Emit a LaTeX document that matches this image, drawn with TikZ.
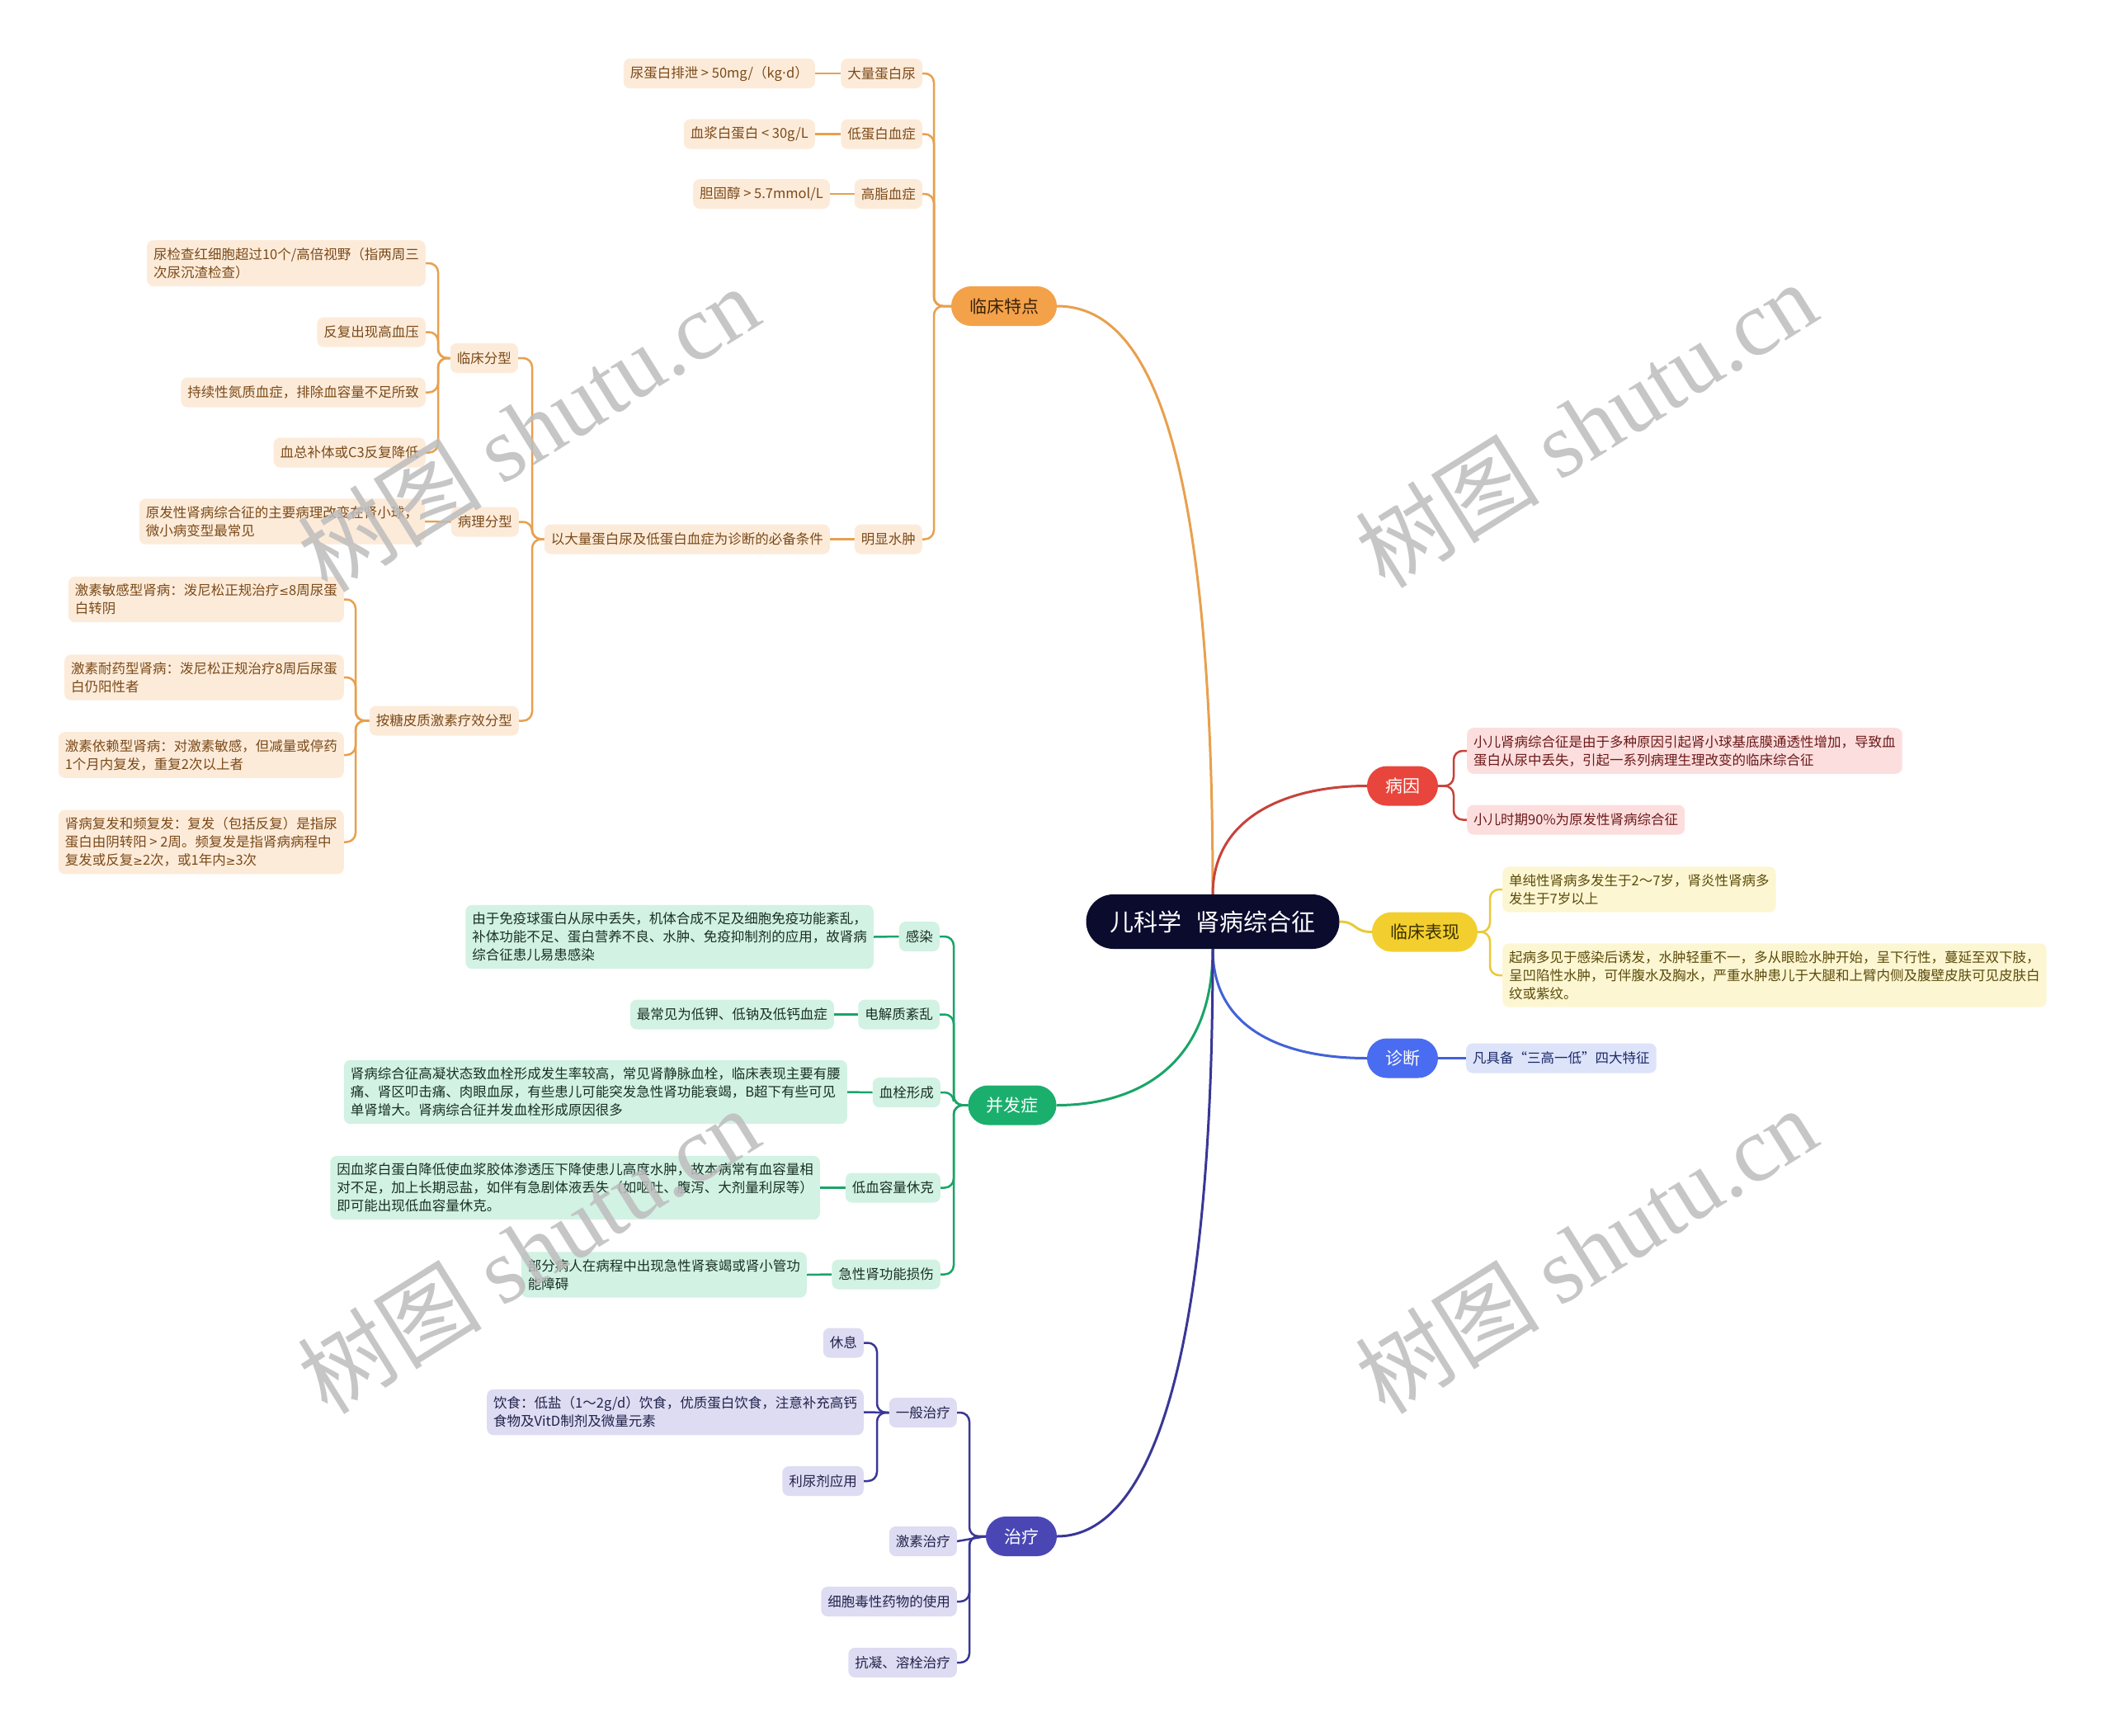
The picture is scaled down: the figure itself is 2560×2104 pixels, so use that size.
\documentclass[tikz,border=0pt]{standalone}
\usepackage{fontspec}
\setmainfont{Noto Sans CJK SC}
\newfontfamily\wmserif{Liberation Serif}
\newfontfamily\latinsans{DejaVu Sans}
\usetikzlibrary{backgrounds}
\definecolor{orF}{HTML}{F4A24A}
\definecolor{orD}{HTML}{3A2208}
\definecolor{orL}{HTML}{FDEBDA}
\definecolor{orT}{HTML}{7A4A18}
\definecolor{orC}{HTML}{E8A04E}
\definecolor{reF}{HTML}{E8453C}
\definecolor{reL}{HTML}{FDDEDE}
\definecolor{reT}{HTML}{6B1A1A}
\definecolor{reC}{HTML}{C8423B}
\definecolor{yeF}{HTML}{F2CF2E}
\definecolor{yeD}{HTML}{3A3000}
\definecolor{yeL}{HTML}{FDF6D2}
\definecolor{yeT}{HTML}{5A4A0A}
\definecolor{yeC}{HTML}{EAC93A}
\definecolor{blF}{HTML}{4A6CF0}
\definecolor{blL}{HTML}{DDE3F9}
\definecolor{blT}{HTML}{1A2A6A}
\definecolor{blC}{HTML}{4262D8}
\definecolor{grF}{HTML}{1BAF6E}
\definecolor{grL}{HTML}{D2F2E4}
\definecolor{grT}{HTML}{1A2F25}
\definecolor{grC}{HTML}{1AA468}
\definecolor{inF}{HTML}{4A47B5}
\definecolor{inL}{HTML}{DDDCF3}
\definecolor{inT}{HTML}{22224A}
\definecolor{inC}{HTML}{3A3796}
\definecolor{rootF}{HTML}{0B0B2E}
\definecolor{wmC}{HTML}{BDBDBD}
\newcommand{\lesym}{{\latinsans\fontsize{14}{22}\selectfont ≤}}
\newcommand{\gesym}{{\latinsans\fontsize{14}{22}\selectfont ≥}}
\tikzset{
  leaf/.style={rounded corners=8pt, inner xsep=8pt, inner ysep=9pt, minimum height=36pt, align=left, font=\fontsize{16.5}{22}\selectfont},
  okbox/.style={leaf, fill=orL, text=orT},
  rdbox/.style={leaf, fill=reL, text=reT},
  ylbox/.style={leaf, fill=yeL, text=yeT},
  blbox/.style={leaf, fill=blL, text=blT},
  gnbox/.style={leaf, fill=grL, text=grT},
  inbox/.style={leaf, fill=inL, text=inT},
  lvl/.style={rounded corners=24pt, minimum height=48pt, inner xsep=22pt, font=\fontsize{21}{25}\selectfont},
  rootbox/.style={rounded corners=33pt, minimum height=66pt, minimum width=307pt, fill=rootF, text=white, font=\fontsize{29}{34}\selectfont},
  mainln/.style={line width=3pt},
  br/.style={line width=2.5pt, rounded corners=11pt},
  wm/.style={text=wmC, opacity=0.85, font=\fontsize{112}{120}\selectfont, rotate=32}
}
\begin{document}
\begin{tikzpicture}[x=1pt,y=-1pt]
\useasboundingbox (0,0) rectangle (2560,2104);
% root
\node[rootbox] (rt) at (1470,1117) {儿科学\hspace{0.6em}肾病综合征};
% ---- orange
\node[lvl, fill=orF, text=orD] (lc) at (1217,371) {临床特点};
\node[okbox, anchor=east] (dl) at (1118,89) {大量蛋白尿};
\node[okbox, anchor=east] (dl1) at (988,89) {尿蛋白排泄 > 50mg/（kg{\latinsans ·}d）};
\node[okbox, anchor=east] (dd) at (1118,162.5) {低蛋白血症};
\node[okbox, anchor=east] (dd1) at (988,162.5) {血浆白蛋白 < 30g/L};
\node[okbox, anchor=east] (gz) at (1118,235) {高脂血症};
\node[okbox, anchor=east] (gz1) at (1006,235) {胆固醇 > 5.7mmol/L};
\node[okbox, anchor=east] (sz) at (1118,653.5) {明显水肿};
\node[okbox, anchor=east] (bb) at (1006,653.5) {以大量蛋白尿及低蛋白血症为诊断的必备条件};
\node[okbox, anchor=east] (lf) at (628,434) {临床分型};
\node[okbox, anchor=east] (lfa) at (516,319) {尿检查红细胞超过10个/高倍视野（指两周三\\次尿沉渣检查）};
\node[okbox, anchor=east] (lfb) at (516,402.5) {反复出现高血压};
\node[okbox, anchor=east] (lfc) at (516,475.5) {持续性氮质血症，排除血容量不足所致};
\node[okbox, anchor=east] (lfd) at (516,548.5) {血总补体或C3反复降低};
\node[okbox, anchor=east] (bl) at (629,632.5) {病理分型};
\node[okbox, anchor=east] (bla) at (515,632) {原发性肾病综合征的主要病理改变在肾小球，\\微小病变型最常见};
\node[okbox, anchor=east] (tz) at (629,873.5) {按糖皮质激素疗效分型};
\node[okbox, anchor=east] (tza) at (417,726.5) {激素敏感型肾病：泼尼松正规治疗\lesym 8周尿蛋\\白转阴};
\node[okbox, anchor=east] (tzb) at (417,821) {激素耐药型肾病：泼尼松正规治疗8周后尿蛋\\白仍阳性者};
\node[okbox, anchor=east] (tzc) at (417,915) {激素依赖型肾病：对激素敏感，但减量或停药\\1个月内复发，重复2次以上者};
\node[okbox, anchor=east] (tzd) at (417,1020.5) {肾病复发和频复发：复发（包括反复）是指尿\\蛋白由阴转阳 > 2周。频复发是指肾病病程中\\复发或反复\gesym 2次，或1年内\gesym 3次};
% ---- red
\node[lvl, fill=reF, text=white] (by) at (1700,952.5) {病因};
\node[rdbox, anchor=west] (bya) at (1778,910) {小儿肾病综合征是由于多种原因引起肾小球基底膜通透性增加，导致血\\蛋白从尿中丢失，引起一系列病理生理改变的临床综合征};
\node[rdbox, anchor=west] (byb) at (1778,993.5) {小儿时期90\%为原发性肾病综合征};
% ---- yellow
\node[lvl, fill=yeF, text=yeD] (bx) at (1727,1129.5) {临床表现};
\node[ylbox, anchor=west] (bxa) at (1821,1078) {单纯性肾病多发生于2～7岁，肾炎性肾病多\\发生于7岁以上};
\node[ylbox, anchor=west] (bxb) at (1821,1182) {起病多见于感染后诱发，水肿轻重不一，多从眼睑水肿开始，呈下行性，蔓延至双下肢，\\呈凹陷性水肿，可伴腹水及胸水，严重水肿患儿于大腿和上臂内侧及腹壁皮肤可见皮肤白\\纹或紫纹。};
% ---- blue
\node[lvl, fill=blF, text=white] (zd) at (1700,1282.5) {诊断};
\node[blbox, anchor=west] (zda) at (1777,1282.5) {凡具备“三高一低”四大特征};
% ---- green
\node[lvl, fill=grF, text=white] (bf) at (1227,1339.5) {并发症};
\node[gnbox, anchor=east] (gr) at (1139,1135) {感染};
\node[gnbox, anchor=east] (gra) at (1059,1135.5) {由于免疫球蛋白从尿中丢失，机体合成不足及细胞免疫功能紊乱，\\补体功能不足、蛋白营养不良、水肿、免疫抑制剂的应用，故肾病\\综合征患儿易患感染};
\node[gnbox, anchor=east] (dj) at (1139,1229.5) {电解质紊乱};
\node[gnbox, anchor=east] (dja) at (1011,1229.5) {最常见为低钾、低钠及低钙血症};
\node[gnbox, anchor=east] (xs) at (1140,1324) {血栓形成};
\node[gnbox, anchor=east] (xsa) at (1027,1323.5) {肾病综合征高凝状态致血栓形成发生率较高，常见肾静脉血栓，临床表现主要有腰\\痛、肾区叩击痛、肉眼血尿，有些患儿可能突发急性肾功能衰竭，B超下有些可见\\单肾增大。肾病综合征并发血栓形成原因很多};
\node[gnbox, anchor=east] (dx) at (1140,1439.5) {低血容量休克};
\node[gnbox, anchor=east] (dxa) at (994,1439.5) {因血浆白蛋白降低使血浆胶体渗透压下降使患儿高度水肿，故本病常有血容量相\\对不足，加上长期忌盐，如伴有急剧体液丢失（如呕吐、腹泻、大剂量利尿等）\\即可能出现低血容量休克。};
\node[gnbox, anchor=east] (js) at (1140,1544.5) {急性肾功能损伤};
\node[gnbox, anchor=east] (jsa) at (978,1545) {部分病人在病程中出现急性肾衰竭或肾小管功\\能障碍};
% ---- indigo
\node[lvl, fill=inF, text=white] (zl) at (1238,1862) {治疗};
\node[inbox, anchor=east] (yb) at (1160,1712) {一般治疗};
\node[inbox, anchor=east] (yba) at (1047,1627.5) {休息};
\node[inbox, anchor=east] (ybb) at (1047,1711.5) {饮食：低盐（1～2g/d）饮食，优质蛋白饮食，注意补充高钙\\食物及VitD制剂及微量元素};
\node[inbox, anchor=east] (ybc) at (1047,1795) {利尿剂应用};
\node[inbox, anchor=east] (jt) at (1160,1868) {激素治疗};
\node[inbox, anchor=east] (xb) at (1160,1941) {细胞毒性药物的使用};
\node[inbox, anchor=east] (kn) at (1160,2015) {抗凝、溶栓治疗};
% trunk coordinates
\coordinate (tlc) at (1132,0);
\coordinate (tbb) at (645,0);
\coordinate (tlf) at (531,0);
\coordinate (ttz) at (431,0);
\coordinate (tby) at (1762,0);
\coordinate (tbx) at (1806,0);
\coordinate (tbf) at (1156,0);
\coordinate (tzl) at (1175,0);
\coordinate (tyb) at (1063,0);
\begin{scope}[on background layer]
\fill[white] (0,0) rectangle (2560,2104);
\draw[orC, mainln] (rt.north) .. controls (1470,500) and (1380,371) .. (lc.east);
\draw[reC, mainln] (rt.north) .. controls (1470,990) and (1560,952.5) .. (by.west);
\draw[yeC, mainln] (rt.east) .. controls (1645,1117) and (1640,1129.5) .. (bx.west);
\draw[blC, mainln] (rt.south) .. controls (1470,1250) and (1560,1282.5) .. (zd.west);
\draw[grC, mainln] (rt.south) .. controls (1470,1290) and (1380,1339.5) .. (bf.east);
\draw[inC, mainln] (rt.south) .. controls (1470,1700) and (1380,1862) .. (zl.east);
% orange
\foreach \c in {dl,dd,gz,sz} \draw[orC, br] (lc.west) -- (lc.west -| tlc) |- (\c.east);
\draw[orC, br] (dl.west) -- (dl1.east);
\draw[orC, br] (dd.west) -- (dd1.east);
\draw[orC, br] (gz.west) -- (gz1.east);
\draw[orC, br] (sz.west) -- (bb.east);
\foreach \c in {lf,bl,tz} \draw[orC, br] (bb.west) -- (bb.west -| tbb) |- (\c.east);
\foreach \c in {lfa,lfb,lfc,lfd} \draw[orC, br] (lf.west) -- (lf.west -| tlf) |- (\c.east);
\draw[orC, br] (bl.west) -- (bla.east);
\foreach \c in {tza,tzb,tzc,tzd} \draw[orC, br] (tz.west) -- (tz.west -| ttz) |- (\c.east);
% red
\foreach \c in {bya,byb} \draw[reC, br] (by.east) -- (by.east -| tby) |- (\c.west);
% yellow
\foreach \c in {bxa,bxb} \draw[yeC, br] (bx.east) -- (bx.east -| tbx) |- (\c.west);
% blue
\draw[blC, br] (zd.east) -- (zda.west);
% green
\foreach \c in {gr,dj,xs,dx,js} \draw[grC, br] (bf.west) -- (bf.west -| tbf) |- (\c.east);
\draw[grC, br] (gr.west) -- (gra.east);
\draw[grC, br] (dj.west) -- (dja.east);
\draw[grC, br] (xs.west) -- (xsa.east);
\draw[grC, br] (dx.west) -- (dxa.east);
\draw[grC, br] (js.west) -- (jsa.east);
% indigo
\foreach \c in {yb,xb,kn} \draw[inC, br] (zl.west) -- (zl.west -| tzl) |- (\c.east);
\draw[inC, br] (zl.west) -- (jt.east);
\foreach \c in {yba,ybc} \draw[inC, br] (yb.west) -- (yb.west -| tyb) |- (\c.east);
\draw[inC, br] (yb.west) -- (ybb.east);
\end{scope}
% watermarks
\node[wm] (w1) at (640,519) {树图 {\wmserif shutu.cn}};
\node[wm] (w2) at (1922,514) {树图 {\wmserif shutu.cn}};
\node[wm] (w3) at (640,1515) {树图 {\wmserif shutu.cn}};
\node[wm] (w4) at (1922,1515) {树图 {\wmserif shutu.cn}};
\end{tikzpicture}
\end{document}
